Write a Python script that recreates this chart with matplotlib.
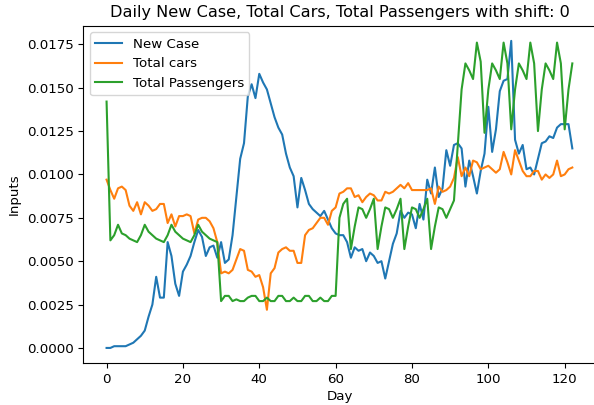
import numpy as np
import matplotlib
matplotlib.use("Agg")
import matplotlib.pyplot as plt

plt.rcParams['font.size'] = 9.6
plt.rcParams['axes.titlesize'] = 11.6

# day index 0..122
days = np.arange(123)

# new case (normalised)
new_case = [
    0.0000, 0.0000, 0.0001, 0.0001, 0.0001, 0.0001, 0.0002, 0.0003, 0.0005, 0.0007,
    0.0010, 0.0018, 0.0025, 0.0041, 0.0029, 0.0029, 0.0061, 0.0053, 0.0037, 0.0030,
    0.0044, 0.0048, 0.0053, 0.0061, 0.0068, 0.0064, 0.0053, 0.0058, 0.0059, 0.0052,
    0.0061, 0.0049, 0.0051, 0.0065, 0.0087, 0.0109, 0.0118, 0.0145, 0.0152, 0.0144,
    0.0158, 0.0153, 0.0149, 0.0141, 0.0133, 0.0127, 0.0123, 0.0112, 0.0104, 0.0099,
    0.0081, 0.0098, 0.0091, 0.0083, 0.0080, 0.0078, 0.0076, 0.0079, 0.0074, 0.0069,
    0.0066, 0.0065, 0.0065, 0.0061, 0.0052, 0.0058, 0.0056, 0.0057, 0.0050, 0.0055,
    0.0053, 0.0049, 0.0050, 0.0040, 0.0050, 0.0060, 0.0066, 0.0079, 0.0075, 0.0078,
    0.0077, 0.0069, 0.0083, 0.0074, 0.0097, 0.0089, 0.0104, 0.0087, 0.0092, 0.0114,
    0.0105, 0.0117, 0.0118, 0.0115, 0.0093, 0.0108, 0.0099, 0.0089, 0.0102, 0.0112,
    0.0139, 0.0113, 0.0126, 0.0148, 0.0154, 0.0155, 0.0177, 0.0120, 0.0112, 0.0117,
    0.0103, 0.0104, 0.0100, 0.0109, 0.0118, 0.0119, 0.0122, 0.0121, 0.0127, 0.0129,
    0.0129, 0.0129, 0.0115,
]

# total cars
total_cars = [
    0.0097, 0.0091, 0.0086, 0.0092, 0.0093, 0.0091, 0.0082, 0.0079, 0.0084, 0.0077,
    0.0084, 0.0082, 0.0079, 0.0080, 0.0083, 0.0083, 0.0072, 0.0077, 0.0070, 0.0076,
    0.0076, 0.0077, 0.0076, 0.0066, 0.0074, 0.0075, 0.0075, 0.0073, 0.0069, 0.0061,
    0.0043, 0.0044, 0.0043, 0.0045, 0.0051, 0.0057, 0.0056, 0.0045, 0.0044, 0.0041,
    0.0042, 0.0035, 0.0022, 0.0043, 0.0046, 0.0055, 0.0057, 0.0058, 0.0056, 0.0056,
    0.0049, 0.0049, 0.0065, 0.0068, 0.0069, 0.0072, 0.0075, 0.0075, 0.0071, 0.0079,
    0.0081, 0.0089, 0.0090, 0.0092, 0.0092, 0.0087, 0.0088, 0.0084, 0.0087, 0.0089,
    0.0088, 0.0085, 0.0085, 0.0090, 0.0089, 0.0090, 0.0092, 0.0094, 0.0092, 0.0095,
    0.0091, 0.0091, 0.0091, 0.0091, 0.0091, 0.0092, 0.0083, 0.0093, 0.0090, 0.0091,
    0.0093, 0.0098, 0.0110, 0.0099, 0.0104, 0.0099, 0.0108, 0.0107, 0.0103, 0.0104,
    0.0105, 0.0103, 0.0101, 0.0103, 0.0113, 0.0107, 0.0100, 0.0114, 0.0108, 0.0102,
    0.0099, 0.0099, 0.0102, 0.0102, 0.0097, 0.0100, 0.0098, 0.0100, 0.0108, 0.0099,
    0.0100, 0.0103, 0.0104,
]

# total passengers
total_passengers = [
    0.0142, 0.0062, 0.0065, 0.0071, 0.0066, 0.0065, 0.0063, 0.0062, 0.0061, 0.0065,
    0.0071, 0.0067, 0.0065, 0.0063, 0.0062, 0.0061, 0.0065, 0.0071, 0.0067, 0.0065,
    0.0063, 0.0062, 0.0061, 0.0065, 0.0071, 0.0067, 0.0065, 0.0063, 0.0062, 0.0061,
    0.0027, 0.0030, 0.0030, 0.0027, 0.0028, 0.0027, 0.0027, 0.0029, 0.0030, 0.0030,
    0.0027, 0.0027, 0.0029, 0.0027, 0.0027, 0.0030, 0.0030, 0.0027, 0.0027, 0.0029,
    0.0027, 0.0027, 0.0030, 0.0030, 0.0027, 0.0027, 0.0029, 0.0027, 0.0027, 0.0030,
    0.0030, 0.0075, 0.0083, 0.0086, 0.0057, 0.0070, 0.0081, 0.0080, 0.0075, 0.0080,
    0.0086, 0.0057, 0.0070, 0.0081, 0.0080, 0.0075, 0.0080, 0.0086, 0.0057, 0.0070,
    0.0081, 0.0080, 0.0075, 0.0080, 0.0086, 0.0057, 0.0070, 0.0081, 0.0080, 0.0075,
    0.0080, 0.0085, 0.0117, 0.0149, 0.0164, 0.0160, 0.0155, 0.0176, 0.0165, 0.0124,
    0.0149, 0.0164, 0.0160, 0.0155, 0.0176, 0.0164, 0.0126, 0.0149, 0.0164, 0.0160,
    0.0155, 0.0176, 0.0164, 0.0125, 0.0149, 0.0164, 0.0160, 0.0155, 0.0176, 0.0164,
    0.0126, 0.0149, 0.0164,
]

shift = 0

fig = plt.figure(figsize=(5.94, 4.05), dpi=100)
ax = fig.add_axes([0.1402, 0.103, 0.8625, 0.834])

ax.plot(days, new_case, label="New Case")
ax.plot(days, total_cars, label="Total cars")
ax.plot(days, total_passengers, label="Total Passengers")

ax.set_title("Daily New Case, Total Cars, Total Passengers with shift: {}".format(shift))
ax.set_xlabel("Day", labelpad=3)
ax.set_ylabel("Inputs")
ax.legend(loc="upper left")

fig.savefig("out.png", dpi=100)
